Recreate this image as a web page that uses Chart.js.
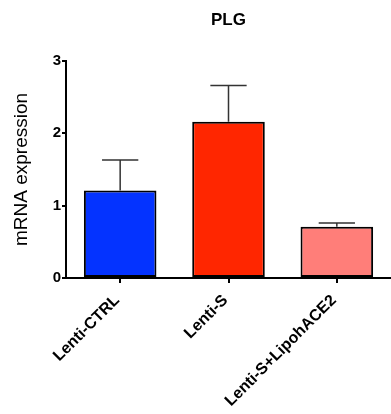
<!DOCTYPE html>
<html>
<head>
<meta charset="utf-8">
<script src="https://cdn.jsdelivr.net/npm/chart.js@4"></script>
<style>
  html, body { margin: 0; padding: 0; background: #fff; }
  #wrap { width: 391px; height: 414px; position: relative; }
</style>
</head>
<body>
<div id="wrap"><canvas id="c" width="391" height="414"></canvas></div>
<script>
const title = "PLG";
const yAxisTitle = "mRNA expression";
const categories = ["Lenti-CTRL", "Lenti-S", "Lenti-S+LipohACE2"];
const means = [1.21, 2.16, 0.71];
const errors = [0.42, 0.50, 0.05];
const barColors = ["#0433FF", "#FF2600", "#FF7E79"];
const yTicks = [0, 1, 2, 3];

const errorBarPlugin = {
  id: "errorBars",
  afterDatasetsDraw(chart) {
    const ctx = chart.ctx;
    const yScale = chart.scales.y;
    const meta = chart.getDatasetMeta(0);
    ctx.save();
    ctx.strokeStyle = "#333";
    ctx.lineWidth = 1.5;
    meta.data.forEach((bar, i) => {
      const x = bar.x;
      const yTop = yScale.getPixelForValue(means[i]);
      const yErr = yScale.getPixelForValue(means[i] + errors[i]);
      const half = bar.width / 4;
      ctx.beginPath();
      ctx.moveTo(x, yTop);
      ctx.lineTo(x, yErr);
      ctx.moveTo(x - half, yErr);
      ctx.lineTo(x + half, yErr);
      ctx.stroke();
    });
    ctx.restore();
  }
};

const titlePlugin = {
  id: "centeredTitle",
  afterDraw(chart) {
    const ctx = chart.ctx;
    const a = chart.chartArea;
    ctx.save();
    ctx.fillStyle = "#000";
    ctx.font = "bold 17px 'Liberation Sans', Arial, sans-serif";
    ctx.textAlign = "center";
    ctx.textBaseline = "middle";
    ctx.fillText(title, (a.left + a.right) / 2, 20);
    ctx.restore();
  }
};

new Chart(document.getElementById("c"), {
  type: "bar",
  data: {
    labels: categories,
    datasets: [{
      data: means,
      backgroundColor: barColors,
      borderColor: "#000",
      borderWidth: 2,
      borderSkipped: false,
      barPercentage: 0.67,
      categoryPercentage: 1.0
    }]
  },
  options: {
    responsive: false,
    animation: false,
    devicePixelRatio: 1,
    layout: { padding: { top: 61, right: 0, left: 0, bottom: 0 } },
    plugins: { legend: { display: false }, tooltip: { enabled: false }, title: { display: false } },
    scales: {
      x: {
        offset: true,
        grid: { display: true, drawOnChartArea: false, drawTicks: true, tickLength: 5, offset: false, color: "#000", lineWidth: 2 },
        border: { display: true, color: "#000", width: 2 },
        ticks: {
          color: "#000",
          font: { family: "'Liberation Sans', Arial, sans-serif", size: 16, weight: "bold" },
          minRotation: 45, maxRotation: 45, padding: 8, labelOffset: -3, autoSkip: false
        },
        afterFit(scale) { scale.height = 136; }
      },
      y: {
        min: 0, max: 3,
        afterBuildTicks(scale) { scale.ticks = yTicks.map(v => ({ value: v })); },
        grid: { display: true, drawOnChartArea: false, drawTicks: true, tickLength: 4, color: "#000", lineWidth: 2 },
        border: { display: true, color: "#000", width: 2 },
        ticks: {
          color: "#000",
          font: { family: "'Liberation Sans', Arial, sans-serif", size: 15, weight: "bold" },
          padding: 1
        },
        title: {
          display: true, text: yAxisTitle, color: "#000",
          font: { family: "'Liberation Sans', Arial, sans-serif", size: 19, weight: "normal" },
          padding: { top: 10, bottom: 0 }
        },
        afterFit(scale) { scale.width = 66; }
      }
    }
  },
  plugins: [errorBarPlugin, titlePlugin]
});
</script>
</body>
</html>
